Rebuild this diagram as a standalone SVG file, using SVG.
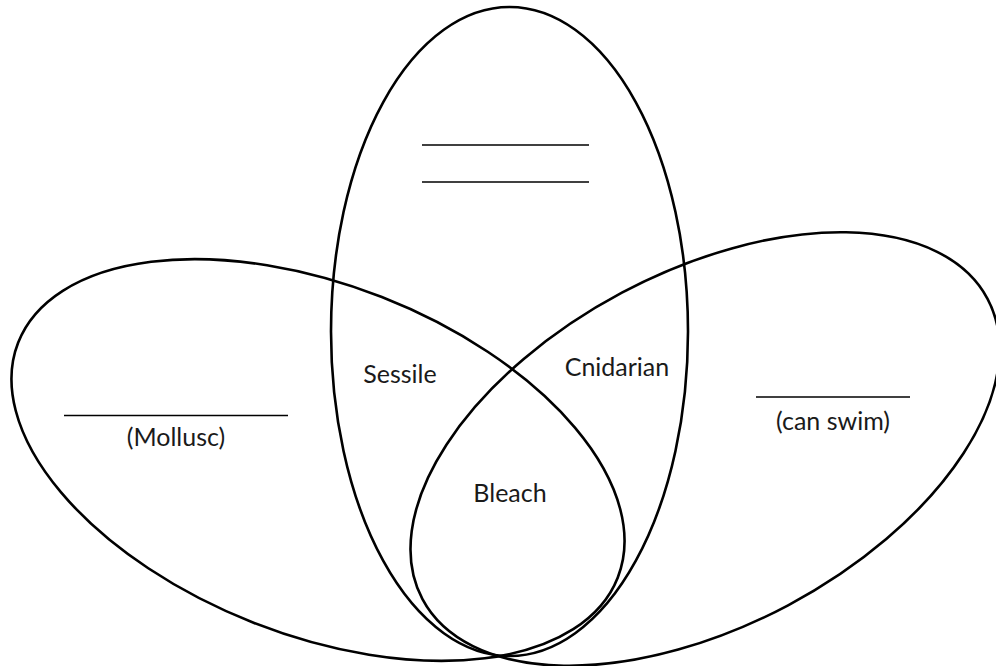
<svg xmlns="http://www.w3.org/2000/svg" width="996" height="666" viewBox="0 0 996 666">
<style>
.set{fill:none;stroke:#000;stroke-width:2.6}
.blank{stroke:#000;stroke-width:1.4}
.lbl{font-family:Lato,"Open Sans","Liberation Sans",sans-serif;font-size:25px;fill:#1a1a1a;text-anchor:middle}
</style>
<rect width="996" height="666" fill="#fff"/>
<g id="sets">
<g id="set-top"><ellipse class="set" cx="509.5" cy="331.5" rx="178.5" ry="324.5"/></g>
<g id="set-left"><ellipse class="set" cx="318" cy="460" rx="322" ry="175" transform="rotate(21.4 318 460)"/></g>
<g id="set-right"><ellipse class="set" cx="705" cy="449" rx="320" ry="177" transform="rotate(-28 705 449)"/></g>
</g>
<g id="labels">
<g id="top-blanks">
<line class="blank" x1="422" y1="145" x2="589" y2="145"/>
<line class="blank" x1="422" y1="182" x2="589" y2="182"/>
</g>
<g id="left-label">
<line class="blank" x1="64" y1="415.5" x2="288" y2="415.5"/>
<text class="lbl" x="176" y="446">(Mollusc)</text>
</g>
<g id="right-label">
<line class="blank" x1="756" y1="397" x2="910" y2="397"/>
<text class="lbl" x="833" y="430">(can swim)</text>
</g>
<text id="sessile" class="lbl" x="400" y="383">Sessile</text>
<text id="cnidarian" class="lbl" x="617" y="376">Cnidarian</text>
<text id="bleach" class="lbl" x="510" y="502">Bleach</text>
</g>
</svg>
